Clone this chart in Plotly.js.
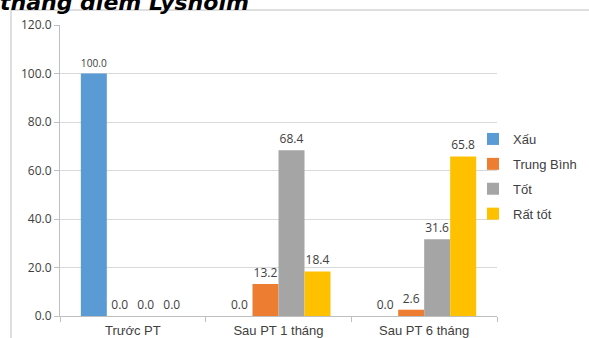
<!DOCTYPE html>
<html>
<head>
<meta charset="utf-8">
<script src="https://cdn.plot.ly/plotly-3.0.1.min.js"></script>
<style>html,body{margin:0;padding:0;background:#fff;}#chart{width:589px;height:338px;}</style>
</head>
<body>
<div id="chart"></div>
<script>
const categories = ["Trước PT", "Sau PT 1 tháng", "Sau PT 6 tháng"];
const seriesNames = ["Xấu", "Trung Bình", "Tốt", "Rất tốt"];
const xau = [100.0, 0.0, 0.0];
const trungBinh = [0.0, 13.2, 2.6];
const tot = [0.0, 68.4, 31.6];
const ratTot = [0.0, 18.4, 65.8];
const colors = ["#5b9bd5", "#ed7d31", "#a5a5a5", "#ffc000"];
const yTicks = [0, 20, 40, 60, 80, 100, 120];
const titleText = "thang điểm Lysholm";

const values = [xau, trungBinh, tot, ratTot];
const traces = values.map((v, i) => ({
  type: "bar",
  name: seriesNames[i],
  legendgroup: "g" + i,
  x: categories,
  y: v,
  marker: {color: colors[i]},
  texttemplate: "%{y:.1f}",
  textposition: "outside",
  textfont: {family: "Open Sans, sans-serif", size: 12, color: "#404040"},
  cliponaxis: false,
  hoverinfo: "skip"
}));

const px = (p) => (p - 60) / 437;
const py = (p) => (316 - p) / 291;

const layout = {
  width: 589, height: 338,
  margin: {l: 60, r: 92, t: 25, b: 22, autoexpand: false},
  paper_bgcolor: "#fff", plot_bgcolor: "#fff",
  barmode: "group", bargap: 0.286, bargroupgap: 0,
  showlegend: true,
  title: {
    text: "<b><i>" + titleText + "</i></b>",
    font: {family: "DejaVu Sans", size: 22, color: "#000"},
    x: 0, xanchor: "left", xref: "container",
    y: 0.994, yanchor: "middle", yref: "container"
  },
  xaxis: {
    type: "category",
    showline: true, linecolor: "#bfbfbf", linewidth: 1,
    ticks: "outside", tickson: "boundaries", ticklen: 5, tickcolor: "#bfbfbf",
    tickfont: {family: "Liberation Sans, Arial", size: 13, color: "#404040"},
    ticklabelstandoff: 2,
    showgrid: false, zeroline: false, fixedrange: true
  },
  yaxis: {
    range: [0, 120], tickvals: yTicks, tickformat: ".1f",
    showline: true, linecolor: "#bfbfbf", linewidth: 1,
    ticks: "outside", ticklen: 5, tickcolor: "#bfbfbf",
    showgrid: true, gridcolor: "#d9d9d9", gridwidth: 1,
    zeroline: false,
    tickfont: {family: "Open Sans, sans-serif", size: 12, color: "#404040"},
    fixedrange: true
  },
  legend: {
    xref: "container", yref: "container",
    x: 473 / 589, xanchor: "left", y: 1 - 124 / 338, yanchor: "top",
    font: {family: "Liberation Sans, Arial", size: 13, color: "#404040"},
    itemwidth: 30, tracegroupgap: 5, bgcolor: "rgba(0,0,0,0)",
    traceorder: "grouped"
  },
  shapes: [
    {type: "line", xref: "paper", yref: "paper", x0: px(11), x1: px(11), y0: py(10), y1: py(340), line: {color: "#bfbfbf", width: 1}},
    {type: "line", xref: "paper", yref: "paper", x0: px(11), x1: px(590), y0: py(10), y1: py(10), line: {color: "#bfbfbf", width: 1}}
  ]
};

Plotly.newPlot("chart", traces, layout, {displayModeBar: false, staticPlot: true});
</script>
</body>
</html>
